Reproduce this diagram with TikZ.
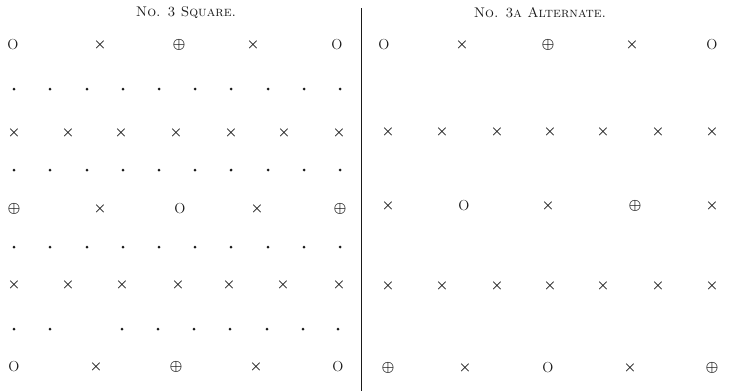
\documentclass[tikz,border=0pt]{standalone}

\begin{document}
\begin{tikzpicture}[x=1pt, y=-1pt,
    markText/.style={inner sep=0pt, text=inkColour, font=\fontsize{14}{14}\selectfont\boldmath},
    treeO/.style={markText, font=\fontsize{14.5}{14.5}\selectfont},
    treeX/.style={markText},
    treeP/.style={markText},
    treeDot/.style={circle, fill=inkColour, inner sep=0pt, minimum size=3pt},
    titleText/.style={inner sep=0pt, text=inkColour, font=\fontsize{14}{16}\selectfont}]

    \definecolor{inkColour}{HTML}{1A1A1A}

    % Fix the page size
    \useasboundingbox (0,0) rectangle (730,391);

    % Draw titles
    \node[titleText] (titleSquare) at (186,13) {\textsc{No. 3 Square.}};
    \node[titleText] (titleAlternate) at (540,13) {\textsc{No. 3a Alternate.}};

    % Draw the divider
    \coordinate (dividerTop) at (361,8);
    \coordinate (dividerBottom) at (361,391);
    \draw[inkColour, line width=0.6pt] (dividerTop) -- (dividerBottom);

    % Left plan: No. 3 square
    \node[treeO] (sqA1) at (13,45) {O};
    \node[treeX] (sqA2) at (100,45) {$\times$};
    \node[treeP] (sqA3) at (179,45) {$\oplus$};
    \node[treeX] (sqA4) at (253,45) {$\times$};
    \node[treeO] (sqA5) at (337,45) {O};

    \foreach \y/\r in {89/B, 170/D, 247/F}
        \foreach \x [count=\i] in {14,50,87,123,159,195,231,268,304,340}
            \node[treeDot] (sq\r\i) at (\x,\y) {};

    \foreach \x [count=\i] in {14,68,121,176,231,284,339}
        \node[treeX] (sqC\i) at (\x,133) {$\times$};

    \node[treeP] (sqE1) at (14,209) {$\oplus$};
    \node[treeX] (sqE2) at (100,209) {$\times$};
    \node[treeO] (sqE3) at (180,209) {O};
    \node[treeX] (sqE4) at (257,209) {$\times$};
    \node[treeP] (sqE5) at (340,209) {$\oplus$};

    \foreach \x [count=\i] in {14,68,122,178,229,283,339}
        \node[treeX] (sqG\i) at (\x,285) {$\times$};

    \foreach \x [count=\i] in {14,50,122,158,194,230,267,303,338}
        \node[treeDot] (sqH\i) at (\x,329) {};

    \node[treeO] (sqI1) at (14,367) {O};
    \node[treeX] (sqI2) at (96,367) {$\times$};
    \node[treeP] (sqI3) at (176,367) {$\oplus$};
    \node[treeX] (sqI4) at (256,367) {$\times$};
    \node[treeO] (sqI5) at (338,367) {O};

    % Right plan: No. 3a alternate
    \node[treeO] (altA1) at (384,45) {O};
    \node[treeX] (altA2) at (462,45) {$\times$};
    \node[treeP] (altA3) at (548,45) {$\oplus$};
    \node[treeX] (altA4) at (632,45) {$\times$};
    \node[treeO] (altA5) at (712,45) {O};

    \foreach \y/\r in {132/B, 286/D}
        \foreach \x [count=\i] in {388,442,497,550,603,658,712}
            \node[treeX] (alt\r\i) at (\x,\y) {$\times$};

    \node[treeX] (altC1) at (388,206) {$\times$};
    \node[treeO] (altC2) at (464,206) {O};
    \node[treeX] (altC3) at (548,206) {$\times$};
    \node[treeP] (altC4) at (635,206) {$\oplus$};
    \node[treeX] (altC5) at (712,206) {$\times$};

    \node[treeP] (altE1) at (388,368) {$\oplus$};
    \node[treeX] (altE2) at (465,368) {$\times$};
    \node[treeO] (altE3) at (548,368) {O};
    \node[treeX] (altE4) at (630,368) {$\times$};
    \node[treeP] (altE5) at (712,368) {$\oplus$};

\end{tikzpicture}
\end{document}
